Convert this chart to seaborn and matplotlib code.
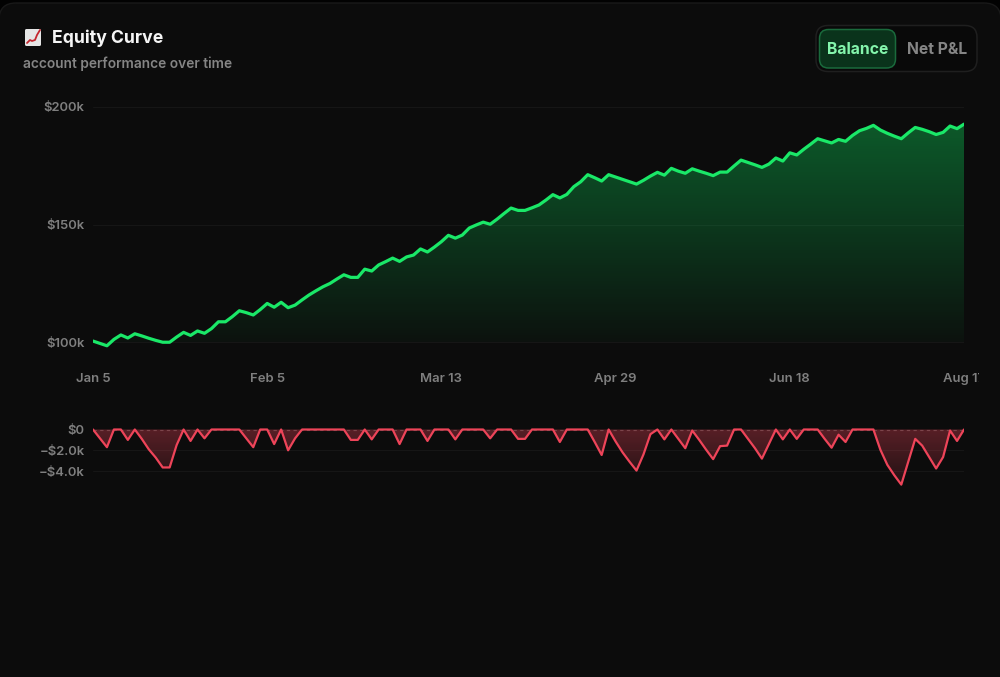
import numpy as np
import matplotlib.pyplot as plt
from matplotlib.colors import LinearSegmentedColormap
from matplotlib.patches import FancyBboxPatch, Polygon
from matplotlib.transforms import Bbox
import seaborn as sns

# values, one point per trading step
equity = [100.4, 99.4, 98.4, 101.1, 103.0, 101.7, 103.5, 102.6, 101.6, 100.7,
          99.9, 99.9, 102.1, 104.1, 102.8, 104.7, 103.7, 105.7, 108.6, 108.6,
          110.8, 113.3, 112.5, 111.5, 113.8, 116.4, 114.8, 116.9, 114.6, 115.7,
          117.9, 120.0, 121.8, 123.5, 124.9, 126.8, 128.6, 127.5, 127.5, 131.0,
          130.2, 132.8, 134.2, 135.7, 134.3, 136.2, 137.0, 139.6, 138.3, 140.4,
          142.7, 145.4, 144.2, 145.5, 148.5, 149.8, 151.0, 150.1, 152.3, 154.7,
          157.0, 156.0, 156.0, 157.1, 158.3, 160.4, 162.7, 161.3, 162.8, 166.1,
          168.2, 171.2, 169.9, 168.5, 171.2, 170.2, 169.2, 168.2, 167.2, 168.8,
          170.6, 172.2, 171.0, 173.9, 172.7, 171.8, 173.7, 172.7, 171.8, 170.8,
          172.3, 172.3, 174.9, 177.4, 176.4, 175.4, 174.3, 175.7, 178.3, 177.0,
          180.5, 179.6, 182.0, 184.2, 186.5, 185.6, 184.7, 186.2, 185.4, 187.9,
          189.9, 190.9, 192.2, 190.2, 188.8, 187.6, 186.5, 189.0, 191.3, 190.5,
          189.5, 188.3, 189.2, 191.9, 190.8, 192.7]
drawdown = [0, -0.85, -1.7, 0, 0, -1.0, 0, -0.9, -1.9, -2.7,
            -3.65, -3.65, -1.5, 0, -1.1, 0, -0.85, 0, 0, 0,
            0, 0, -0.85, -1.7, 0, 0, -1.4, 0, -2.0, -0.85,
            0, 0, 0, 0, 0, 0, 0, -1.0, -1.0, 0,
            -0.95, 0, 0, 0, -1.4, 0, 0, 0, -1.1, 0,
            0, 0, -0.95, 0, 0, 0, 0, -0.85, 0, 0,
            0, -0.9, -0.9, 0, 0, 0, 0, -1.2, 0, 0,
            0, 0, -1.2, -2.45, 0, -1.15, -2.2, -3.1, -3.95, -2.4,
            -0.45, 0, -0.95, 0, -0.9, -1.8, -0.1, -1.0, -1.95, -2.85,
            -1.6, -1.55, 0, 0, -0.9, -1.8, -2.8, -1.4, 0, -0.95,
            0, -0.9, 0, 0, 0, -0.9, -1.75, -0.5, -1.2, 0,
            0, 0, 0, -1.95, -3.4, -4.4, -5.3, -3.1, -0.9, -1.55,
            -2.65, -3.75, -2.65, -0.1, -1.1, 0]
date_labels = ['Jan 5', 'Feb 5', 'Mar 13', 'Apr 29', 'Jun 18', 'Aug 17']
date_ticks = [0, 25, 50, 75, 100, 125]
equity_ticks = [100, 150, 200]
equity_labels = ['$100k', '$150k', '$200k']
dd_ticks = [0, -2, -4]
dd_labels = ['$0', '\u2212$2.0k', '\u2212$4.0k']

W, H = 1000, 677
PAGE = '#020202'
CARD = '#0c0c0c'
GRID = '#161616'
GREEN = '#1ae868'
RED = '#ee4459'
MUTED = '#7f7f7f'

sns.set_theme(style='dark')
plt.rcParams['font.family'] = ['Inter', 'DejaVu Sans']

fig = plt.figure(figsize=(W / 100, H / 100), dpi=100, facecolor=PAGE)


def px_axes(left, top, right, bottom, **kw):
    """ axes placed by picture pixels, y counted from the top """
    return fig.add_axes([left / W, 1 - bottom / H, (right - left) / W, (bottom - top) / H], **kw)


# card, header and toggle live on a full size pixel axes
bg = px_axes(0, 0, W, H)
bg.set_xlim(0, W)
bg.set_ylim(H, 0)
bg.axis('off')
bg.add_patch(FancyBboxPatch((-1, 3), 1002, 720, boxstyle='round,pad=0,rounding_size=17',
                            fc=CARD, ec='#191919', lw=1.0))
bg.add_patch(FancyBboxPatch((25, 29), 16, 17, boxstyle='round,pad=0,rounding_size=1.5', fc='#e6e6e6', ec='none'))
bg.plot([27, 30, 32, 35, 37, 40], [43, 40, 41, 40, 35, 30], color='#c4262e', lw=1.3)
bg.text(52, 38, 'Equity Curve', color='#f5f5f5', fontsize=12.7, fontweight='bold', va='center')
bg.text(23, 64, 'account performance over time', color='#858585', fontsize=9.9, fontweight='semibold', va='center')
bg.add_patch(FancyBboxPatch((816, 25.5), 161, 46, boxstyle='round,pad=0,rounding_size=12',
                            fc='#090909', ec='#1f1f1f', lw=1.1))
bg.add_patch(FancyBboxPatch((819.5, 29.5), 76, 38.5, boxstyle='round,pad=0,rounding_size=9',
                            fc='#0a331b', ec='#1a6a3c', lw=1.1))
bg.text(857.5, 49, 'Balance', color='#84f5ac', fontsize=11.3, fontweight='bold', ha='center', va='center')
bg.text(937, 49, 'Net P&L', color='#858585', fontsize=11.3, fontweight='bold', ha='center', va='center')

x = np.arange(len(equity))

# equity panel
ax = px_axes(93, 107, 964, 354, facecolor='none')
ax.set_ylim(100 - 12 / 2.35, 200)
ax.set_xlim(0, 125)
for t in equity_ticks:
    ax.axhline(t, color=GRID, lw=0.8, zorder=1)
green_fade = LinearSegmentedColormap.from_list('gf', [(0.06, 0.9, 0.38, 0.36), (0.06, 0.9, 0.38, 0.03)])
img = ax.imshow(np.linspace(0, 1, 256).reshape(-1, 1), cmap=green_fade, aspect='auto',
                extent=[0, 125, 100, 193], origin='upper', zorder=2)
clip = Polygon(np.vstack([np.column_stack([x, equity]), [[125, 100], [0, 100]]]), transform=ax.transData,
               fc='none', ec='none')
ax.add_patch(clip)
img.set_clip_path(clip)
sns.lineplot(x=x, y=equity, ax=ax, color=GREEN, lw=2.3, zorder=3, errorbar=None)
ax.set_xlim(0, 125)
ax.set_ylim(100 - 12 / 2.35, 200)
ax.set_yticks(equity_ticks, equity_labels)
ax.set_xticks(date_ticks, date_labels)
ax.tick_params(axis='y', length=0, pad=6, labelsize=9.4, labelcolor=MUTED)
ax.tick_params(axis='x', length=0, pad=14, labelsize=9.4, labelcolor=MUTED)
for lab in ax.get_xticklabels() + ax.get_yticklabels():
    lab.set_fontweight('semibold')
# last date runs off the chart area in the original
last = ax.get_xticklabels()[-1]
last.set_clip_on(True)
last.set_clip_box(Bbox([[0, 0], [979, H]]))
ax.grid(False)
ax.set_xlabel('')
ax.set_ylabel('')
sns.despine(ax=ax, left=True, bottom=True)

# drawdown panel
ax2 = px_axes(93, 425, 964, 490, facecolor='none')
ax2.set_xlim(0, 125)
ax2.set_ylim(-(490 - 429.5) / 10.4, 4.5 / 10.4)
for t in dd_ticks[1:]:
    ax2.axhline(t, color=GRID, lw=0.8, zorder=1)
ax2.axhline(0, color='#444444', lw=0.8, ls=(0, (3, 3)), zorder=1)
red_fade = LinearSegmentedColormap.from_list('rf', [(0.93, 0.27, 0.35, 0.34), (0.93, 0.27, 0.35, 0.1)])
img2 = ax2.imshow(np.linspace(0, 1, 256).reshape(-1, 1), cmap=red_fade, aspect='auto',
                  extent=[0, 125, -5.3, 0], origin='upper', zorder=2)
clip2 = Polygon(np.vstack([np.column_stack([x, drawdown]), [[125, 0], [0, 0]]]), transform=ax2.transData,
                fc='none', ec='none')
ax2.add_patch(clip2)
img2.set_clip_path(clip2)
sns.lineplot(x=x, y=drawdown, ax=ax2, color=RED, lw=1.6, zorder=3, errorbar=None)
ax2.set_xlim(0, 125)
ax2.set_ylim(-(490 - 429.5) / 10.4, 4.5 / 10.4)
ax2.set_yticks(dd_ticks, dd_labels)
ax2.set_xticks([])
ax2.tick_params(axis='y', length=0, pad=6, labelsize=9.4, labelcolor=MUTED)
for lab in ax2.get_yticklabels():
    lab.set_fontweight('semibold')
ax2.grid(False)
ax2.set_xlabel('')
ax2.set_ylabel('')
sns.despine(ax=ax2, left=True, bottom=True)

fig.savefig('out.png', dpi=100, facecolor=PAGE)
